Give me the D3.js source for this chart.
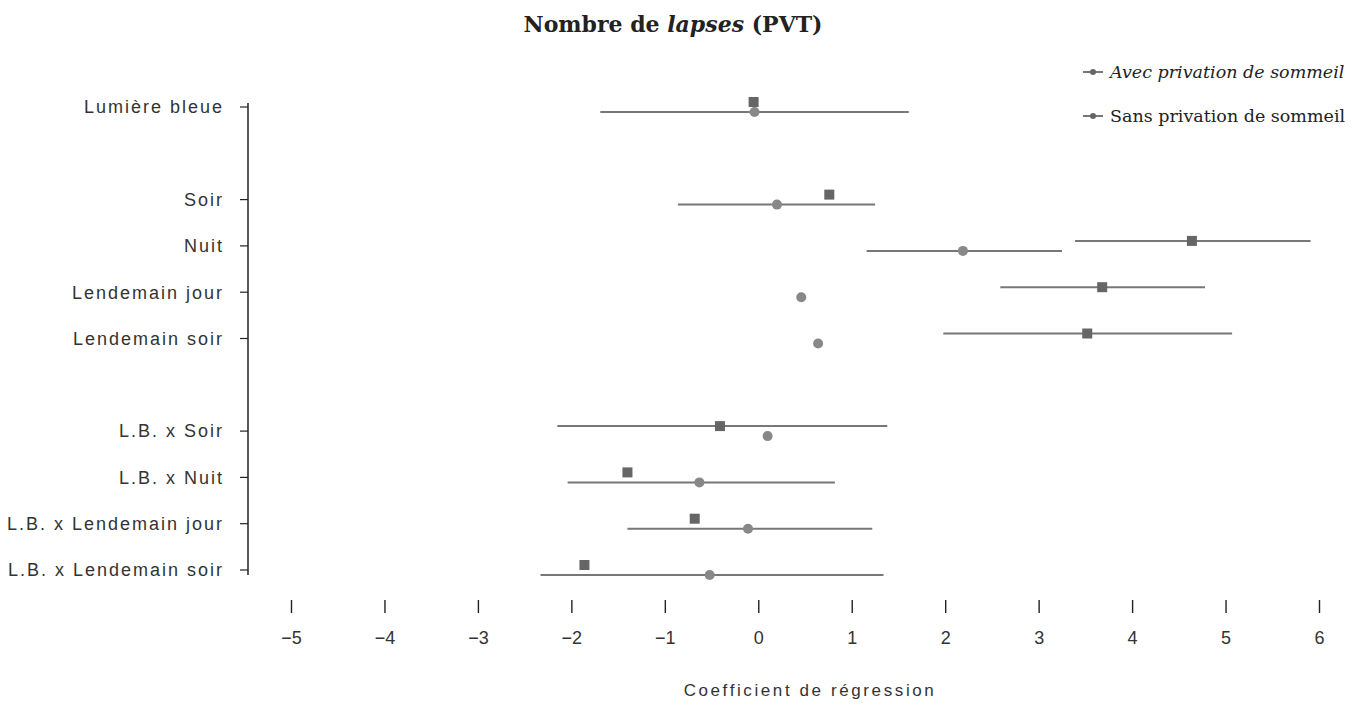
<!DOCTYPE html>
<html>
<head>
<meta charset="utf-8">
<script src="https://cdn.jsdelivr.net/npm/d3@7"></script>
<style>
	body { margin: 0; background: #fff; }
	.title { font-family: "DejaVu Serif", serif; font-weight: bold; font-size: 22px; fill: #222; }
	.catLabel { font-family: "Liberation Sans", Arial, sans-serif; font-size: 18px; letter-spacing: 2px; fill: #333; }
	.tickLabel { font-family: "Liberation Sans", Arial, sans-serif; font-size: 18px; fill: #333; }
	.axisTitle { font-family: "Liberation Sans", Arial, sans-serif; font-size: 17px; letter-spacing: 2.6px; fill: #333; }
	.legendText { font-family: "DejaVu Serif", serif; font-size: 17.5px; fill: #222; }
</style>
</head>
<body>
<script>
//categories, top to bottom ("" = empty slot)
var categories = ["Lumière bleue", "", "Soir", "Nuit", "Lendemain jour", "Lendemain soir", "",
	"L.B. x Soir", "L.B. x Nuit", "L.B. x Lendemain jour", "L.B. x Lendemain soir"];
var seriesNames = ["Avec privation de sommeil", "Sans privation de sommeil"];

//estimates and confidence bounds (null = no interval drawn)
var avecEst = [-0.05, null, 0.76, 4.64, 3.68, 3.52, null, -0.41, -1.40, -0.68, -1.86];
var avecLow = [null, null, null, 3.39, 2.59, 1.98, null, -2.15, null, null, null];
var avecHigh = [null, null, null, 5.91, 4.78, 5.07, null, 1.38, null, null, null];

var sansEst = [-0.04, null, 0.20, 2.19, 0.46, 0.64, null, 0.10, -0.63, -0.11, -0.52];
var sansLow = [-1.69, null, -0.86, 1.16, null, null, null, null, -2.04, -1.40, -2.33];
var sansHigh = [1.61, null, 1.25, 3.25, null, null, null, null, 0.82, 1.22, 1.34];

var xTicks = [-5, -4, -3, -2, -1, 0, 1, 2, 3, 4, 5, 6];

window.onload = drawChart();

function drawChart(){
	var width = 1363,
		height = 706;

	var svg = d3.select("body")
		.append("svg")
		.attr("width", width)
		.attr("height", height);

	var x = d3.scaleLinear()
		.domain([-5, 6])
		.range([291, 1319]);

	var y = d3.scalePoint()
		.domain(d3.range(categories.length))
		.range([107, 570]);

	//title
	var title = svg.append("text")
		.attr("class", "title")
		.attr("x", 673)
		.attr("y", 32)
		.attr("text-anchor", "middle");
	title.append("tspan").text("Nombre de ");
	title.append("tspan").style("font-style", "italic").text("lapses");
	title.append("tspan").text(" (PVT)");

	//y axis line and category ticks
	svg.append("line")
		.attr("x1", 248).attr("x2", 248)
		.attr("y1", y(0) - 4).attr("y2", y(categories.length - 1) + 5)
		.attr("stroke", "#222")
		.attr("stroke-width", 1.5);

	var cats = categories.map(function(c, i){ return {name: c, i: i}; })
		.filter(function(d){ return d.name != ""; });

	svg.selectAll(".catTick")
		.data(cats)
		.enter()
		.append("line")
		.attr("class", "catTick")
		.attr("x1", 240).attr("x2", 248)
		.attr("y1", function(d){ return y(d.i); })
		.attr("y2", function(d){ return y(d.i); })
		.attr("stroke", "#222")
		.attr("stroke-width", 1.2);

	svg.selectAll(".catLabel")
		.data(cats)
		.enter()
		.append("text")
		.attr("class", "catLabel")
		.attr("x", 224)
		.attr("y", function(d){ return y(d.i); })
		.attr("dy", "0.35em")
		.attr("text-anchor", "end")
		.text(function(d){ return d.name; });

	//x axis: ticks and labels, no base line
	var xAxis = svg.append("g")
		.attr("transform", "translate(0,600)")
		.call(d3.axisBottom(x).tickValues(xTicks).tickSize(13).tickPadding(18));
	xAxis.select(".domain").remove();
	xAxis.selectAll(".tick line").attr("stroke", "#222").attr("stroke-width", 1.4);
	xAxis.selectAll(".tick text").attr("class", "tickLabel").attr("font-family", null).attr("font-size", null);

	svg.append("text")
		.attr("class", "axisTitle")
		.attr("x", 810)
		.attr("y", 696)
		.attr("text-anchor", "middle")
		.text("Coefficient de régression");

	//series
	drawSeries(svg, x, y, avecEst, avecLow, avecHigh, -5, "square", "#666");
	drawSeries(svg, x, y, sansEst, sansLow, sansHigh, 5, "circle", "#888");

	//legend
	var legend = svg.selectAll(".legend")
		.data(seriesNames)
		.enter()
		.append("g")
		.attr("class", "legend")
		.attr("transform", function(d, i){ return "translate(1083," + (72 + i * 44) + ")"; });
	legend.append("line")
		.attr("x1", 0).attr("x2", 20)
		.attr("stroke", "#777")
		.attr("stroke-width", 2);
	legend.append("circle")
		.attr("cx", 10)
		.attr("r", 3)
		.attr("fill", "#666");
	legend.append("text")
		.attr("class", "legendText")
		.attr("x", 27)
		.attr("dy", "0.35em")
		.style("font-style", function(d, i){ return i == 0 ? "italic" : "normal"; })
		.text(function(d){ return d; });
};

function drawSeries(svg, x, y, est, low, high, offset, shape, color){
	var rows = est.map(function(v, i){
		return {i: i, est: v, low: low[i], high: high[i]};
	}).filter(function(d){ return d.est != null; });

	svg.selectAll(null)
		.data(rows.filter(function(d){ return d.low != null; }))
		.enter()
		.append("line")
		.attr("x1", function(d){ return x(d.low); })
		.attr("x2", function(d){ return x(d.high); })
		.attr("y1", function(d){ return y(d.i) + offset; })
		.attr("y2", function(d){ return y(d.i) + offset; })
		.attr("stroke", "#777")
		.attr("stroke-width", 2);

	if (shape == "square"){
		svg.selectAll(null)
			.data(rows)
			.enter()
			.append("rect")
			.attr("x", function(d){ return x(d.est) - 5; })
			.attr("y", function(d){ return y(d.i) + offset - 5; })
			.attr("width", 10)
			.attr("height", 10)
			.attr("fill", color);
	} else {
		svg.selectAll(null)
			.data(rows)
			.enter()
			.append("circle")
			.attr("cx", function(d){ return x(d.est); })
			.attr("cy", function(d){ return y(d.i) + offset; })
			.attr("r", 5)
			.attr("fill", color);
	};
};
</script>
</body>
</html>
